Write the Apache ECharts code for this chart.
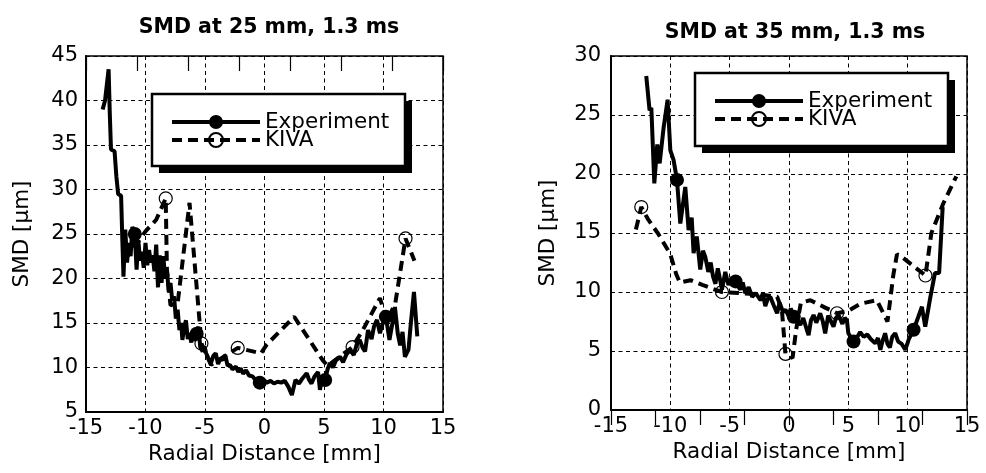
<!DOCTYPE html>
<html><head><meta charset="utf-8">
<script src="https://cdn.jsdelivr.net/npm/echarts@6/dist/echarts.min.js"></script>
<style>html,body{margin:0;padding:0;background:#fff}#c{width:986px;height:473px}</style>
</head><body><div id="c"></div>
<script>
// ---------- data ----------
const titleLeft = 'SMD at 25 mm, 1.3 ms';
const titleRight = 'SMD at 35 mm, 1.3 ms';
const xName = 'Radial Distance [mm]';
const yName = 'SMD [µm]';
const seriesNames = ['Experiment', 'KIVA'];

// left chart (25 mm)
const expX25 = [-13.6,-13.4,-13.1,-13.0,-12.9,-12.6,-12.45,-12.3,-12.05,-11.95,-11.85,-11.7,-11.55,-11.4,-11.25,-11.1,-10.9,-10.75,-10.6,-10.45,-10.3,-10.15,-10.0,-9.85,-9.7,-9.55,-9.4,-9.25,-9.1,-8.95,-8.8,-8.65,-8.5,-8.35,-8.2,-8.05,-7.9,-7.75,-7.6,-7.45,-7.3,-7.15,-7.0,-6.9,-6.75,-6.6,-6.45,-6.3,-6.15,-6.0,-5.85,-5.7,-5.55,-5.4,-5.2,-5.05,-4.9,-4.7,-4.5,-4.3,-4.1,-3.9,-3.7,-3.5,-3.3,-3.1,-2.9,-2.7,-2.4,-2.2,-2.0,-1.8,-1.55,-1.3,-1.0,-0.7,-0.4,-0.1,0.2,0.5,0.8,1.1,1.4,1.7,2.0,2.3,2.6,2.9,3.2,3.55,3.75,3.95,4.2,4.5,4.66,4.85,5.1,5.3,5.5,5.75,6.0,6.35,6.6,6.9,7.2,7.5,7.75,8.0,8.25,8.45,8.7,9.0,9.2,9.45,9.7,9.9,10.2,10.5,10.8,10.96,11.2,11.4,11.6,11.8,12.1,12.3,12.56,12.84];
const expY25 = [39.0,40.0,43.5,38.5,34.5,34.3,31.5,29.5,29.3,24.5,20.2,25.5,21.8,24.0,22.5,25.8,25.0,21.0,24.2,22.0,23.0,21.2,24.0,21.5,23.2,21.8,22.6,20.8,23.8,19.0,22.6,19.5,22.5,20.0,21.0,18.5,19.5,17.5,18.0,15.5,16.5,14.2,15.0,13.1,14.5,15.3,13.2,13.9,12.8,14.2,13.0,13.8,14.6,12.3,11.8,12.4,11.6,11.0,10.5,11.3,11.6,10.4,11.0,10.85,11.4,10.2,10.3,9.8,10.1,9.5,9.9,9.3,9.7,9.1,9.0,8.5,8.3,8.6,8.3,8.5,8.2,8.4,8.3,8.5,7.85,6.9,8.6,8.2,8.8,9.35,8.6,8.2,9.0,9.5,7.5,8.8,8.6,9.8,10.5,10.0,10.8,11.2,10.6,11.5,12.0,11.4,12.6,13.1,12.2,11.8,14.2,13.2,14.6,15.35,13.85,14.8,15.7,13.1,15.35,16.8,13.8,12.5,14.0,11.2,12.0,15.0,18.5,13.5];
const expMarks25 = [-10.9,-5.7,-0.4,5.1,10.2];
const kivaX25 = [-11.8,-10.8,-10.0,-9.1,-8.3,-8.2,-7.9,-7.3,-6.3,-5.3,-4.5,-2.25,-0.3,0.2,2.5,4.9,5.3,7.4,8.3,9.7,10.3,11.0,11.85,12.6];
const kivaY25 = [22.0,23.8,25.3,26.6,29.0,21.0,17.0,17.2,28.5,12.7,10.3,12.2,11.6,12.6,15.7,10.8,10.2,12.3,14.3,17.8,15.2,17.3,24.5,22.0];
const kivaMarks25 = [-8.3,-5.3,-2.25,7.4,11.85];

// right chart (35 mm)
const expX35 = [-12.03,-11.75,-11.6,-11.35,-11.1,-10.9,-10.57,-10.23,-10.0,-9.73,-9.44,-9.16,-8.74,-8.46,-8.2,-8.04,-7.77,-7.48,-7.25,-7.06,-6.8,-6.6,-6.4,-6.2,-6.0,-5.8,-5.65,-5.37,-5.1,-4.8,-4.5,-4.3,-4.1,-3.9,-3.68,-3.4,-3.1,-2.8,-2.4,-2.2,-2.0,-1.8,-1.58,-1.3,-1.0,-0.8,-0.5,-0.3,-0.05,0.15,0.4,0.7,0.95,1.2,1.5,1.65,1.85,2.07,2.3,2.63,2.85,3.05,3.3,3.5,3.75,3.95,4.17,4.5,4.7,4.88,5.0,5.44,5.7,6.0,6.3,6.6,6.9,7.27,7.5,7.7,7.9,8.1,8.3,8.5,8.7,8.95,9.2,9.5,9.8,10.1,10.5,10.9,11.2,11.48,11.9,12.3,12.65,12.95];
const expY35 = [28.3,25.4,25.6,19.2,22.5,20.9,23.9,26.3,22.0,21.2,19.5,15.8,18.9,15.25,16.3,13.3,14.7,11.9,13.5,13.0,11.7,12.5,11.3,10.7,12.0,11.0,10.2,11.7,10.6,11.2,10.9,10.5,10.2,10.8,9.9,10.4,9.6,9.9,9.3,9.9,8.8,9.4,9.6,8.9,8.2,9.1,8.3,8.5,8.0,8.6,7.9,7.6,7.2,7.8,6.8,6.35,7.6,8.05,7.4,8.2,7.5,6.5,8.0,7.6,7.06,7.8,8.05,7.3,7.8,7.6,6.5,5.8,6.1,6.6,6.2,6.4,6.0,5.65,6.1,5.1,5.9,6.5,5.6,5.3,6.2,6.5,5.8,5.6,5.1,6.0,6.8,7.9,8.75,7.06,9.5,11.6,11.6,17.2];
const expMarks35 = [-9.44,-4.5,0.4,5.44,10.5];
const kivaX35 = [-12.9,-12.45,-11.9,-11.0,-10.0,-9.5,-9.2,-8.3,-7.3,-6.5,-5.65,-4.0,-2.5,-1.0,-0.6,-0.3,0.3,0.6,1.0,1.8,3.0,4.05,5.0,6.0,7.4,8.3,8.8,9.1,9.6,11.5,12.0,13.0,14.1];
const kivaY35 = [15.3,17.2,16.2,14.9,13.2,11.5,10.8,11.0,10.6,10.3,10.0,9.9,9.8,9.6,8.5,4.75,4.4,6.8,9.1,9.3,8.7,8.2,8.4,9.0,9.3,7.5,11.5,13.2,12.9,11.4,15.0,17.5,19.8];
const kivaMarks35 = [-12.45,-5.65,-0.3,4.05,11.5];

// ---------- build ----------
const FONT = 'DejaVu Sans';
function pts(xs, ys, marks) {
  return xs.map((x, i) => ({ value: [x, ys[i]], symbol: marks.indexOf(x) >= 0 ? 'circle' : 'none' }));
}
const grids = [
  { left: 86, right: 543, top: 56, bottom: 61 },
  { left: 611, right: 19, top: 56, bottom: 63 }
];
const yRange = [[5, 45], [0, 30]];
const topDiv = [7, 8];
const legendBoxes = [
  { x: 152, y: 94, w: 253, h: 72 },
  { x: 695, y: 73, w: 253, h: 73 }
];

const option = {
  animation: false,
  backgroundColor: '#fff',
  textStyle: { fontFamily: FONT, color: '#000' },
  title: [
    { text: titleLeft, left: 264, top: 12, textAlign: 'center', textStyle: { fontFamily: FONT, fontWeight: 'bold', fontSize: 20.5, color: '#000' } },
    { text: titleRight, left: 790, top: 17, textAlign: 'center', textStyle: { fontFamily: FONT, fontWeight: 'bold', fontSize: 20.5, color: '#000' } }
  ],
  grid: grids.map(g => Object.assign({ show: true, borderColor: '#000', borderWidth: 1.5, backgroundColor: 'transparent' }, g)),
  graphic: [],
  xAxis: [],
  yAxis: [],
  legend: [],
  series: []
};
legendBoxes.forEach(b => {
  option.graphic.push({ type: 'rect', z: 5, shape: { x: b.x + 7, y: b.y + 7, width: b.w, height: b.h }, style: { fill: '#000' } });
  option.graphic.push({ type: 'rect', z: 6, shape: { x: b.x, y: b.y, width: b.w, height: b.h }, style: { fill: '#fff', stroke: '#000', lineWidth: 2.5 } });
});
[0, 1].forEach(k => {
  option.xAxis.push({
    gridIndex: k, type: 'value', min: -15, max: 15, interval: 5, position: 'bottom',
    name: xName, nameLocation: 'middle', nameGap: 31,
    nameTextStyle: { fontFamily: FONT, fontSize: 21.5, color: '#000' },
    axisLine: { show: true, onZero: false, lineStyle: { color: '#000', width: 2 } },
    axisTick: { show: false },
    axisLabel: { fontFamily: FONT, fontSize: 21, color: '#000', margin: 6 },
    splitLine: { show: true, lineStyle: { color: '#000', width: 1, type: [4, 3.5] } }
  });
  option.xAxis.push({
    gridIndex: k, type: 'value', min: 0, max: topDiv[k], interval: 1, position: 'top',
    axisLine: { show: false },
    axisTick: { show: true, inside: true, length: 15, lineStyle: { color: '#000', width: 1.2 } },
    axisLabel: { show: false }, splitLine: { show: false }
  });
  option.yAxis.push({
    gridIndex: k, type: 'value', min: yRange[k][0], max: yRange[k][1], interval: 5,
    name: yName, nameLocation: 'middle', nameGap: k === 0 ? 53 : 52,
    nameTextStyle: { fontFamily: FONT, fontSize: 21.5, color: '#000' },
    axisLine: { show: true, onZero: false, lineStyle: { color: '#000', width: 2 } },
    axisTick: { show: false },
    axisLabel: { fontFamily: FONT, fontSize: 21, color: '#000', margin: k === 0 ? 8 : 10 },
    splitLine: { show: true, lineStyle: { color: '#000', width: 1, type: [4, 3.5] } }
  });
});
option.legend = legendBoxes.map(b => ({
  left: b.x, top: b.y, z: 10,
  orient: 'vertical', data: seriesNames, selectedMode: false,
  itemWidth: 88, itemHeight: 17.5, itemGap: -4,
  padding: [17, 12, 15, 18],
  lineStyle: { width: 4 },
  textStyle: { fontFamily: FONT, fontSize: 21.5, lineHeight: 22, color: '#000' }
}));

const sets = [
  [expX25, expY25, expMarks25, kivaX25, kivaY25, kivaMarks25],
  [expX35, expY35, expMarks35, kivaX35, kivaY35, kivaMarks35]
];
sets.forEach((s, k) => {
  option.series.push({
    name: seriesNames[0], type: 'line', xAxisIndex: 2 * k, yAxisIndex: k,
    data: pts(s[0], s[1], s[2]), showSymbol: true, symbol: 'circle', symbolSize: 14,
    lineStyle: { color: '#000', width: 4 },
    itemStyle: { color: '#000' }, z: 3, silent: true
  });
  option.series.push({
    name: seriesNames[1], type: 'line', xAxisIndex: 2 * k, yAxisIndex: k,
    data: pts(s[3], s[4], s[5]), showSymbol: true, symbol: 'circle', symbolSize: 13,
    lineStyle: { color: '#000', width: 4, type: [10, 6] },
    itemStyle: { color: 'rgba(255,255,255,0)', borderColor: '#000', borderWidth: 1.2 }, z: 2, silent: true
  });
});

const chart = echarts.init(document.getElementById('c'));
chart.setOption(option);
</script>
</body></html>
